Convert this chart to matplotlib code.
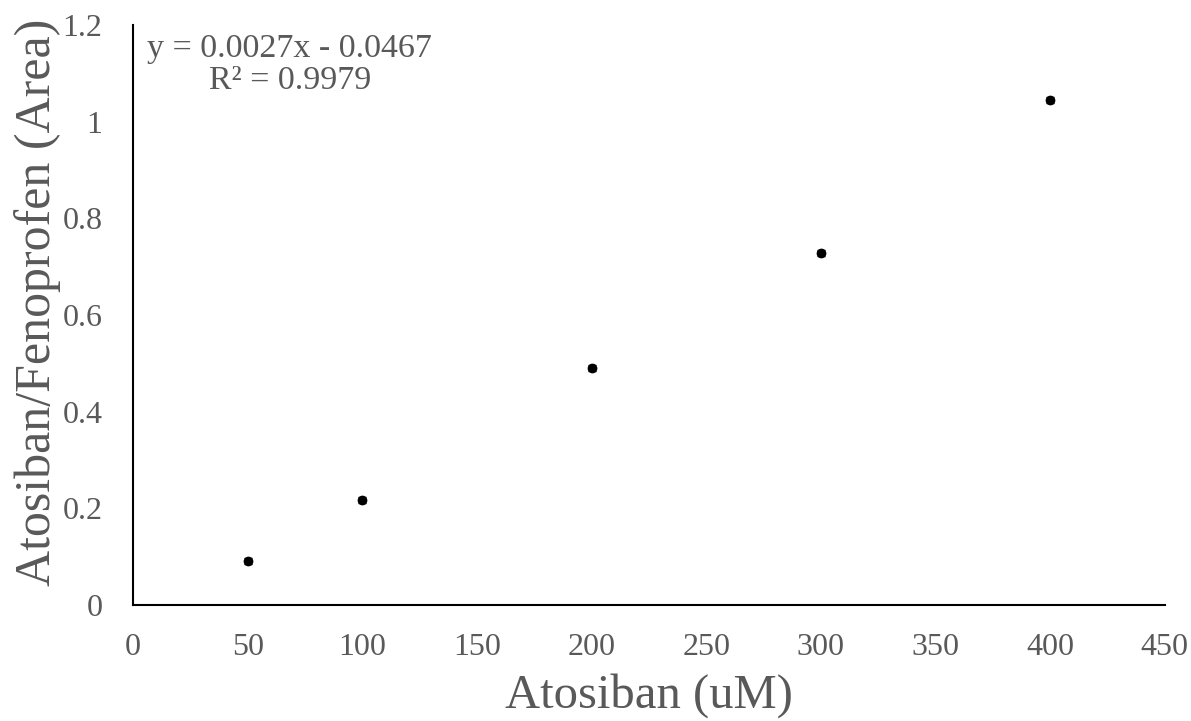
import matplotlib.pyplot as plt

# dados
conc = [50, 100, 200, 300, 400]
razao = [0.091, 0.217, 0.490, 0.728, 1.045]
erro = [0.006, 0.006, 0.006, 0.006, 0.006]

plt.rcParams['font.family'] = ['Liberation Serif', 'DejaVu Serif']

fig = plt.figure(figsize=(11.91, 7.21), dpi=100)
ax = fig.add_axes([0.1117, 0.1609, 0.8663, 0.8044])

ax.errorbar(conc, razao, yerr=erro, fmt='o', color='black', markersize=6,
            capsize=3, elinewidth=1, capthick=1)

ax.set_xlim(0, 450)
ax.set_ylim(0, 1.2)
ax.set_xticks(range(0, 451, 50))
ax.set_yticks([0, 0.2, 0.4, 0.6, 0.8, 1, 1.2])
ax.set_yticklabels(['0', '0.2', '0.4', '0.6', '0.8', '1', '1.2'])
ax.tick_params(length=0, labelsize=23, labelcolor='#595959')
ax.tick_params(axis='x', pad=20)
ax.tick_params(axis='y', pad=22)

for s in ['top', 'right']:
    ax.spines[s].set_visible(False)
for s in ['left', 'bottom']:
    ax.spines[s].set_linewidth(1.5)

ax.set_xlabel('Atosiban (uM)', fontsize=35, color='#595959', labelpad=8)
ax.set_ylabel('Atosiban/Fenoprofen (Area)', fontsize=36, color='#595959', labelpad=1)
ax.yaxis.label.set_y(0.522)

ax.text(0.152, 0.985, 'y = 0.0027x - 0.0467\nR² = 0.9979', transform=ax.transAxes,
        fontsize=24.5, color='#595959', ha='center', va='top', multialignment='center',
        linespacing=1.05)

fig.savefig('out.png')
